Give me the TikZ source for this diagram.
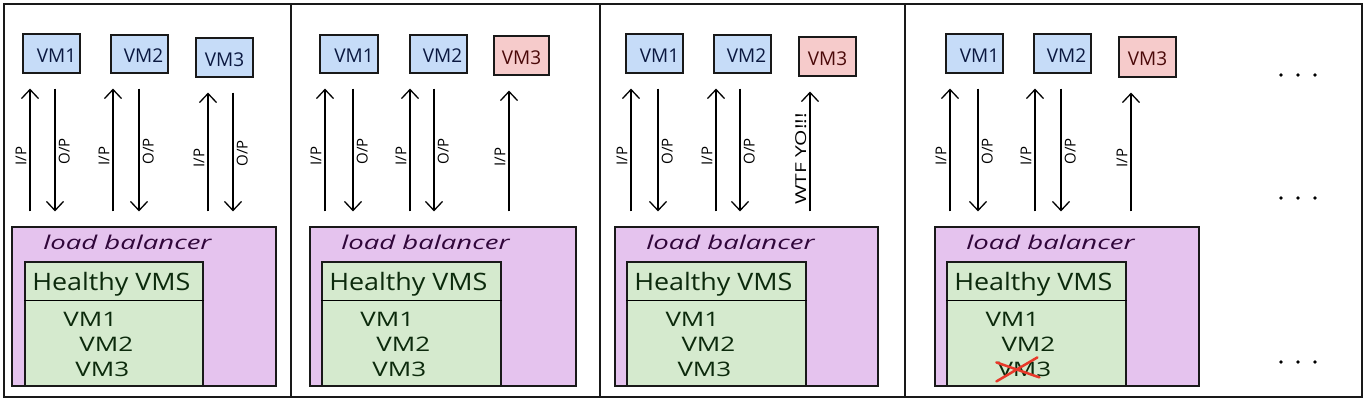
\documentclass[tikz,border=0pt]{standalone}
\usepackage{fontspec}
\setmainfont{Open Sans}
\usetikzlibrary{arrows.meta,fit,calc}
\definecolor{vmblue}{HTML}{C6DCF8}
\definecolor{vmred}{HTML}{F6CBCB}
\definecolor{lbpurple}{HTML}{E5C3EE}
\definecolor{hgreen}{HTML}{D5EACE}
\definecolor{txtblue}{HTML}{0A1840}
\definecolor{txtred}{HTML}{4A0808}
\definecolor{txtpurple}{HTML}{30063A}
\definecolor{txtgreen}{HTML}{0C2A0C}
\definecolor{xred}{HTML}{E8392A}
\newcommand\uplink[4]{\coordinate (#1) at (#2,0);\draw[arr] (#3.north -| #1) -- node[iplab,pos=0.46]{I/P} (#4.south -| #1);}
\newcommand\downlink[4]{\coordinate (#1) at (#2,0);\draw[arr] (#4.south -| #1) -- node[oplab,pos=0.51]{O/P} (#3.north -| #1);}
\newcommand\vmbox[6]{\node[#1,fit={#3}] (#2) {};\node[#4] (#2t) at ($(#2.center)+(#5,2)$) {#6};}
\newcommand\lbpanel[5]{%
 \node[lbbox,fit={(#2,227)(#3,386)}] (#1lb) {};
 \node[hbox,fit={(#4,262)(#5,386)}] (#1hv) {};
 \node[lbtxt] (#1lbt) at ($(#1lb.north west)+(116,16)$) {load balancer};
 \draw[line width=1.2pt] ($(#1hv.north west)+(0,39)$) -- ($(#1hv.north east)+(0,39)$);
 \node[htxt] (#1ht) at ($(#1hv.north west)+(87,23)$) {Healthy VMS};
 \node[ltxt] (#1l1) at ($(#1hv.north west)+(66,58)$) {VM1};
 \node[ltxt] (#1l2) at ($(#1hv.north west)+(82,83)$) {VM2};
 \node[ltxt] (#1l3) at ($(#1hv.north west)+(78,108)$) {VM3};
}
\begin{document}
\begin{tikzpicture}[x=1pt,y=-1pt,
  frame/.style={draw=black!90,line width=1.5pt},
  vmb/.style={draw=black!90,line width=1.2pt,fill=vmblue,inner sep=0pt},
  vmr/.style={vmb,fill=vmred},
  vmt/.style={text=txtblue,font=\fontsize{19}{19}\selectfont,inner sep=0pt},
  vmrt/.style={vmt,text=txtred},
  lbbox/.style={draw=black!90,line width=1.2pt,fill=lbpurple,inner sep=0pt},
  hbox/.style={draw=black!90,line width=1.2pt,fill=hgreen,inner sep=0pt},
  lbtxt/.style={text=txtpurple,font=\fontsize{19}{19}\selectfont\itshape,xscale=1.45},
  htxt/.style={text=txtgreen,font=\fontsize{24}{24}\selectfont,xscale=1.12},
  ltxt/.style={text=txtgreen,font=\fontsize{20}{20}\selectfont,xscale=1.3},
  arr/.style={line width=1.3pt,-{Straight Barb[length=9pt,width=17pt,line width=1.3pt]},shorten <=15pt,shorten >=15pt},
  iplab/.style={rotate=90,anchor=south,inner sep=3pt,font=\fontsize{15}{15}\selectfont},
  oplab/.style={rotate=90,anchor=north,inner sep=3pt,font=\fontsize{15}{15}\selectfont},
  wtflab/.style={rotate=90,anchor=south,inner sep=3pt,font=\fontsize{15}{15}\selectfont,xscale=1.4},
  crossline/.style={draw=xred,line width=2.5pt,line cap=round},
  dotc/.style={fill=black}
]
\useasboundingbox (0,0) rectangle (1365,402);
% frames
\draw[frame] (4,4) rectangle (1362,397);
\draw[frame] (291,4) -- (291,397);
\draw[frame] (600,4) -- (600,397);
\draw[frame] (905,4) -- (905,397);

% panel 1
\vmbox{vmb}{p1v1}{(23,34)(80,73)}{vmt}{5}{VM1}
\vmbox{vmb}{p1v2}{(111,35)(168,73)}{vmt}{4}{VM2}
\vmbox{vmb}{p1v3}{(196,38)(253,77)}{vmt}{0}{VM3}
\lbpanel{p1}{12}{276}{25}{203}
\uplink{p1a1}{30}{p1lb}{p1v1}
\downlink{p1b1}{55}{p1lb}{p1v1}
\uplink{p1a2}{113}{p1lb}{p1v2}
\downlink{p1b2}{139}{p1lb}{p1v2}
\uplink{p1a3}{208}{p1lb}{p1v3}
\downlink{p1b3}{233}{p1lb}{p1v3}

% panel 2
\vmbox{vmb}{p2v1}{(320,35)(378,73)}{vmt}{5}{VM1}
\vmbox{vmb}{p2v2}{(410,35)(467,73)}{vmt}{4}{VM2}
\vmbox{vmr}{p2v3}{(494,36)(549,75)}{vmrt}{0}{VM3}
\lbpanel{p2}{310}{576}{322}{501}
\uplink{p2a1}{325}{p2lb}{p2v1}
\downlink{p2b1}{353}{p2lb}{p2v1}
\uplink{p2a2}{410}{p2lb}{p2v2}
\downlink{p2b2}{434}{p2lb}{p2v2}
\uplink{p2a3}{509}{p2lb}{p2v3}

% panel 3
\vmbox{vmb}{p3v1}{(626,34)(683,73)}{vmt}{5}{VM1}
\vmbox{vmb}{p3v2}{(714,35)(771,73)}{vmt}{4}{VM2}
\vmbox{vmr}{p3v3}{(799,37)(856,76)}{vmrt}{0}{VM3}
\lbpanel{p3}{615}{878}{627}{806}
\uplink{p3a1}{631}{p3lb}{p3v1}
\downlink{p3b1}{658}{p3lb}{p3v1}
\uplink{p3a2}{716}{p3lb}{p3v2}
\downlink{p3b2}{740}{p3lb}{p3v2}
\coordinate (p3a3) at (810,0);
\draw[arr] (p3lb.north -| p3a3) -- node[wtflab,pos=0.45]{WTF YO!!!} (p3v3.south -| p3a3);

% panel 4
\vmbox{vmb}{p4v1}{(946,34)(1003,73)}{vmt}{5}{VM1}
\vmbox{vmb}{p4v2}{(1034,34)(1091,73)}{vmt}{4}{VM2}
\vmbox{vmr}{p4v3}{(1119,37)(1176,77)}{vmrt}{0}{VM3}
\lbpanel{p4}{935}{1199}{947}{1126}
\uplink{p4a1}{950}{p4lb}{p4v1}
\downlink{p4b1}{978}{p4lb}{p4v1}
\uplink{p4a2}{1035}{p4lb}{p4v2}
\downlink{p4b2}{1061}{p4lb}{p4v2}
\uplink{p4a3}{1131}{p4lb}{p4v3}
\draw[crossline] ($(p4l3.center)+(-28,12)$) -- ($(p4l3.center)+(13,-12)$);
\draw[crossline] ($(p4l3.center)+(-28,-7)$) -- ($(p4l3.center)+(15,8)$);

% dots
\foreach \yy in {75,198,362}{
  \foreach \xx in {1281,1298,1315}{\fill[dotc] (\xx,\yy) circle (1.8pt);}
}
\end{tikzpicture}
\end{document}
